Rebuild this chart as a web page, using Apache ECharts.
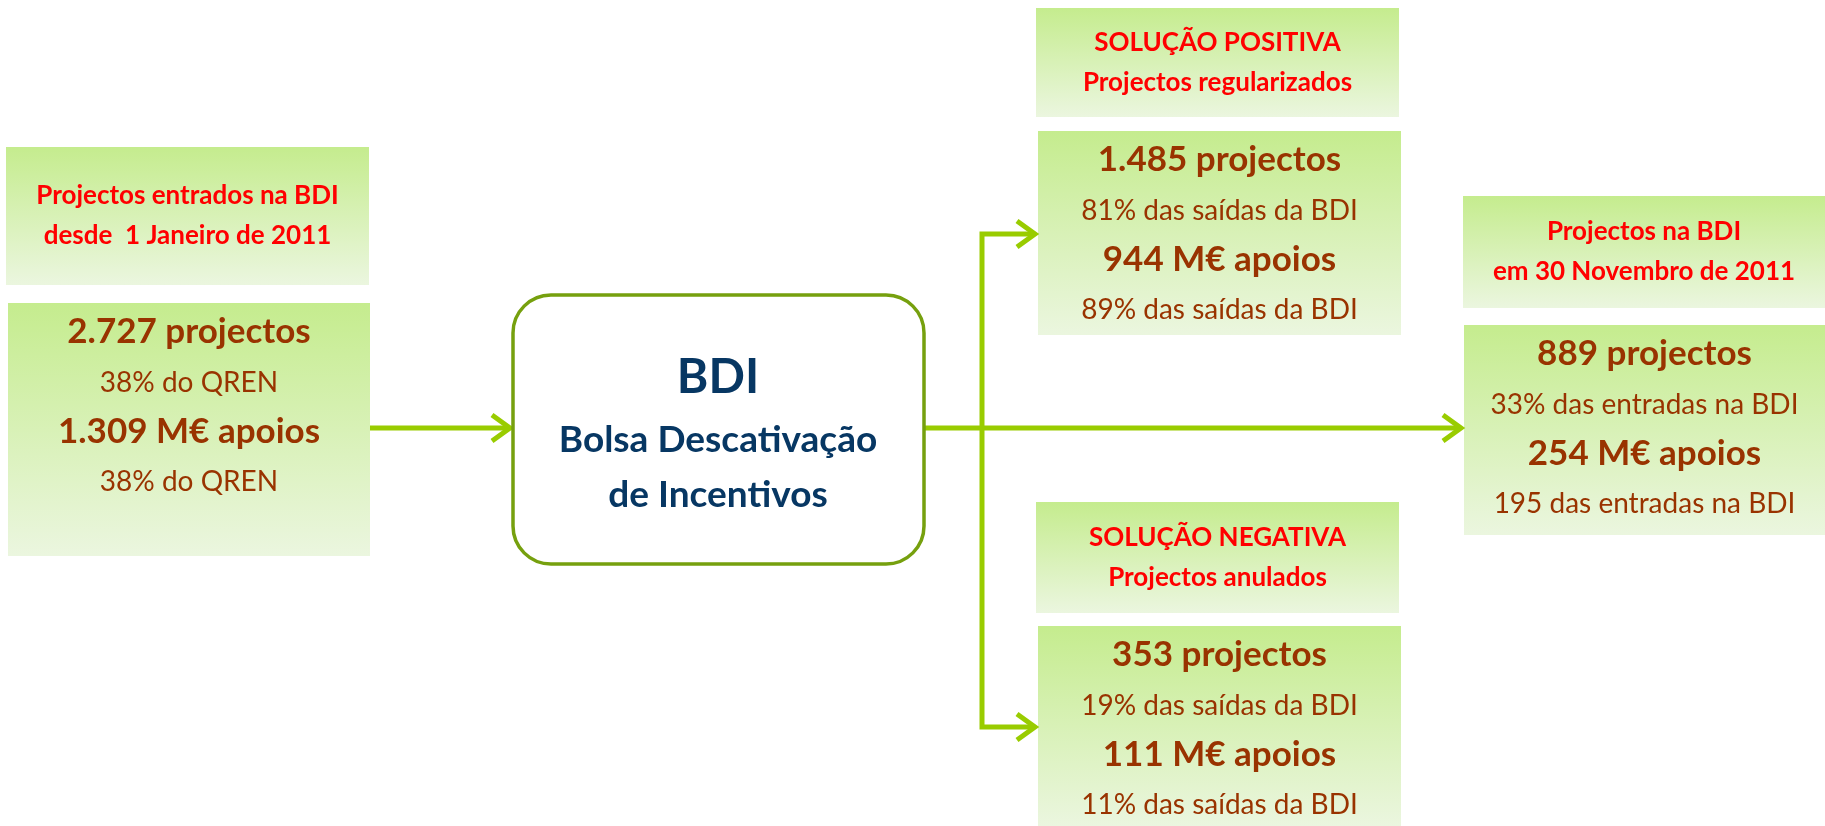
<!DOCTYPE html>
<html>
<head>
<meta charset="utf-8">
<title>BDI</title>
<script src="https://cdn.jsdelivr.net/npm/echarts@6/dist/echarts.min.js"></script>
<style>
    html, body { margin: 0; padding: 0; background: #ffffff; }
    #chart { width: 1825px; height: 826px; }
</style>
</head>
<body>
<div id="chart"></div>
<script>
// boxes: entradas, positiva, na BDI, negativa
var boxHeaders = [
    ['Projectos entrados na BDI', 'desde  1 Janeiro de 2011'],
    ['SOLUÇÃO POSITIVA', 'Projectos regularizados'],
    ['Projectos na BDI', 'em 30 Novembro de 2011'],
    ['SOLUÇÃO NEGATIVA', 'Projectos anulados']
];
var projects = [2727, 1485, 889, 353];
var projectNotes = ['38% do QREN', '81% das saídas da BDI', '33% das entradas na BDI', '19% das saídas da BDI'];
var supportsMEur = [1309, 944, 254, 111];
var supportNotes = ['38% do QREN', '89% das saídas da BDI', '195 das entradas na BDI', '11% das saídas da BDI'];
var centreLines = ['BDI', 'Bolsa Descativação', 'de Incentivos'];

// layout (px)
var headerRects = [[6, 147, 363, 138], [1036, 8, 363, 109], [1463, 196, 362, 112], [1036, 502, 363, 111]];
var dataRects = [[8, 303, 362, 253], [1038, 131, 363, 204], [1464, 325, 361, 210], [1038, 626, 363, 200]];
var dataOffsets = [29, 80, 129, 179];

var FONT = 'Lato, "Open Sans", sans-serif';
var LINE = '#99CC00';
var RED = '#FF0000';
var BROWN = '#993300';
var NAVY = '#073763';

function fmt(n) {
    return String(n).replace(/\B(?=(\d{3})+(?!\d))/g, '.');
}

function greenFill() {
    return new echarts.graphic.LinearGradient(0, 0, 0, 1, [
        { offset: 0, color: '#C5EC8E' },
        { offset: 1, color: '#EBF6DF' }
    ]);
}

function txt(x, y, text, font, color) {
    return {
        type: 'text', x: x, y: y, z: 10,
        style: { text: text, font: font, fill: color, align: 'center', verticalAlign: 'middle' }
    };
}

function line(points) {
    return {
        type: 'polyline', z: 5,
        shape: { points: points },
        style: { stroke: LINE, lineWidth: 5, fill: null, lineJoin: 'miter', lineCap: 'butt' }
    };
}

function arrowHead(x, y) {
    return line([[x - 19, y - 13], [x - 1, y], [x - 19, y + 13]]);
}

var elements = [];

// connectors
elements.push(line([[370, 428], [510, 428]]));
elements.push(arrowHead(511, 428));
elements.push(line([[925, 428], [1461, 428]]));
elements.push(arrowHead(1462, 428));
elements.push(line([[1035, 234], [982, 234], [982, 727], [1035, 727]]));
elements.push(arrowHead(1036, 234));
elements.push(arrowHead(1036, 727));

boxHeaders.forEach(function (lines, i) {
    var r = headerRects[i];
    elements.push({ type: 'rect', z: 1, shape: { x: r[0], y: r[1], width: r[2], height: r[3] }, style: { fill: greenFill() } });
    var cx = r[0] + r[2] / 2, cy = r[1] + r[3] / 2;
    elements.push(txt(cx, cy - 20, lines[0], 'bold 26px ' + FONT, RED));
    elements.push(txt(cx, cy + 20, lines[1], 'bold 26px ' + FONT, RED));
});

dataRects.forEach(function (r, i) {
    elements.push({ type: 'rect', z: 1, shape: { x: r[0], y: r[1], width: r[2], height: r[3] }, style: { fill: greenFill() } });
    var cx = r[0] + r[2] / 2;
    elements.push(txt(cx, r[1] + dataOffsets[0], fmt(projects[i]) + ' projectos', 'bold 35px ' + FONT, BROWN));
    elements.push(txt(cx, r[1] + dataOffsets[1], projectNotes[i], '28px ' + FONT, BROWN));
    elements.push(txt(cx, r[1] + dataOffsets[2], fmt(supportsMEur[i]) + ' M€ apoios', 'bold 35px ' + FONT, BROWN));
    elements.push(txt(cx, r[1] + dataOffsets[3], supportNotes[i], '28px ' + FONT, BROWN));
});

// central rounded box
elements.push({
    type: 'rect', z: 6,
    shape: { x: 513, y: 295, width: 411, height: 269, r: 38 },
    style: { fill: '#ffffff', stroke: '#76A00E', lineWidth: 3.5 }
});
elements.push(txt(718, 378, centreLines[0], 'bold 48px ' + FONT, NAVY));
elements.push(txt(718, 440, centreLines[1], 'bold 37px ' + FONT, NAVY));
elements.push(txt(718, 495, centreLines[2], 'bold 37px ' + FONT, NAVY));

var chart = echarts.init(document.getElementById('chart'));
var option = {
    backgroundColor: '#ffffff',
    animation: false,
    graphic: { elements: elements }
};
chart.setOption(option, true);
window.onresize = function () {
    chart.resize();
};
</script>
</body>
</html>
